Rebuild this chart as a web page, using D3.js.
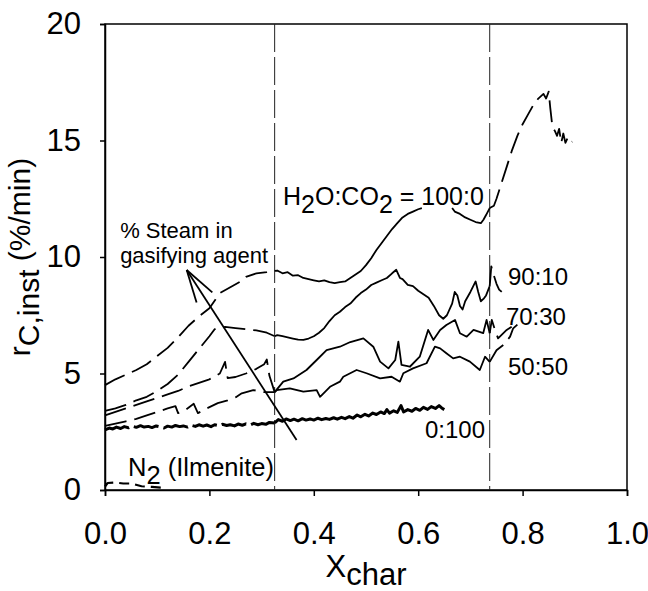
<!DOCTYPE html>
<html>
<head>
<meta charset="utf-8">
<script src="https://cdn.jsdelivr.net/npm/d3@7"></script>
<style>
  html, body { margin: 0; padding: 0; background: #fff; }
  svg { display: block; font-family: "Liberation Sans", Arial, sans-serif; }
</style>
</head>
<body>
<svg id="chart" width="648" height="591"></svg>
<script>
// Axis ticks
const xTicks = [0, 0.2, 0.4, 0.6, 0.8, 1.0];
const yTicks = [0, 5, 10, 15, 20];

// Conversion stage boundaries (X_char)
const stageBounds = [0.325, 0.737];

// Instantaneous gasification rate r_C,inst (%/min) vs X_char
const steam100 = [
  [0,4.5],[0.02,4.75],[0.04,4.95],[0.06,5.15],[0.08,5.4],[0.10,5.75],[0.12,6.1],[0.14,6.55],[0.16,7.05],[0.18,7.45],
  [0.20,7.8],[0.22,8.45],[0.24,8.7],[0.26,8.95],[0.27,9.15],[0.29,9.3],[0.31,9.35],[0.325,9.4],
  [0.33,9.42],[0.34,9.3],[0.35,9.35],[0.36,9.2],[0.37,9.22],[0.38,9.1],[0.39,9.05],[0.40,9.0],[0.41,8.95],[0.42,9.0],
  [0.43,8.92],[0.44,8.88],[0.45,8.92],[0.46,8.95],[0.47,9.1],[0.48,9.25],[0.49,9.4],[0.50,9.65],[0.51,9.95],[0.52,10.3],
  [0.53,10.6],[0.54,10.9],[0.55,11.2],[0.56,11.45],[0.57,11.7],[0.58,11.85],[0.59,11.95],[0.60,12.05],[0.607,12.1],
  [0.636,null],
  [0.665,12.1],[0.67,11.95],[0.68,11.85],[0.69,11.7],[0.70,11.6],[0.71,11.5],[0.72,11.45],[0.725,11.6],[0.73,11.8],[0.737,12.1],
  [0.745,12.2],[0.75,12.5],[0.76,13.2],[0.77,13.9],[0.78,14.6],[0.79,15.2],[0.80,15.7],[0.81,16.1],[0.82,16.5],[0.83,16.8],
  [0.84,17.0],[0.845,16.8],[0.85,17.1],[0.853,16.4],[0.857,15.6],[0.862,15.4],[0.866,15.2],[0.87,15.5],[0.874,14.9],
  [0.878,15.3],[0.882,14.9],[0.886,15.1],[0.89,14.9],[0.895,14.95]
];
const steam90 = [
  [0,3.4],[0.02,3.5],[0.04,3.65],[0.06,3.85],[0.08,4.0],[0.10,4.25],[0.12,4.55],[0.14,4.95],[0.16,5.5],[0.18,6.05],
  [0.20,6.6],[0.21,6.9],[0.23,7.0],[0.25,6.95],[0.27,6.9],[0.29,6.85],[0.31,6.75],[0.325,6.6],
  [0.33,6.65],[0.34,6.6],[0.35,6.55],[0.36,6.5],[0.37,6.45],[0.38,6.44],[0.39,6.5],[0.40,6.6],[0.41,6.75],[0.42,6.95],
  [0.43,7.25],[0.44,7.5],[0.45,7.65],[0.46,7.85],[0.47,8.0],[0.48,8.25],[0.49,8.45],[0.50,8.6],[0.51,8.8],[0.52,8.9],
  [0.53,9.0],[0.54,9.1],[0.55,9.3],[0.558,9.45],[0.565,9.1],[0.57,9.05],[0.58,8.8],[0.59,8.75],[0.60,8.55],[0.61,8.4],
  [0.62,8.25],[0.63,7.9],[0.64,7.5],[0.648,7.35],[0.655,7.5],[0.665,8.0],[0.67,8.5],[0.675,8.35],[0.68,7.9],[0.685,7.75],
  [0.69,8.1],[0.70,8.5],[0.71,8.95],[0.715,8.5],[0.72,8.1],[0.725,8.2],[0.73,8.35],[0.737,8.75],
  [0.74,9.6],[0.745,9.2],[0.75,8.85],[0.755,8.6],[0.76,8.5]
];
const steam70 = [
  [0,3.2],[0.02,3.35],[0.04,3.5],[0.06,3.65],[0.08,3.8],[0.10,3.95],[0.12,4.1],[0.14,4.25],[0.16,4.45],[0.18,4.6],
  [0.20,4.75],[0.22,5.0],[0.23,5.5],[0.235,4.8],[0.25,4.85],[0.27,5.0],[0.29,5.2],[0.305,5.4],[0.31,5.6],[0.315,4.9],[0.325,4.2],
  [0.3415,4.65],[0.361,4.79],[0.386,5.15],[0.4055,5.58],[0.4245,6.0],[0.45,6.15],[0.47,6.35],[0.495,6.51],[0.514,6.15],
  [0.527,5.51],[0.543,5.22],[0.556,5.58],[0.562,6.37],[0.568,5.37],[0.584,5.29],[0.603,5.72],[0.619,6.87],[0.629,6.44],
  [0.642,6.87],[0.654,7.08],[0.6705,7.3],[0.68,6.73],[0.693,6.58],[0.706,6.87],[0.7245,6.73],[0.731,7.3],[0.737,6.73],
  [0.741,7.3],[0.747,6.87],[0.753,6.51],[0.7695,6.87],[0.779,7.01]
];
const steam50 = [
  [0,2.75],[0.02,2.85],[0.04,2.95],[0.06,3.05],[0.08,3.2],[0.10,3.35],[0.12,3.5],[0.135,3.6],[0.14,3.3],[0.155,3.45],
  [0.17,3.7],[0.178,3.3],[0.195,3.5],[0.216,3.73],[0.235,3.85],[0.252,4.0],[0.262,4.15],[0.284,4.29],[0.305,4.2],[0.325,4.2],
  [0.329,4.29],[0.354,4.36],[0.38,4.22],[0.4055,4.29],[0.412,4.0],[0.431,4.43],[0.45,4.65],[0.4565,4.86],[0.482,5.15],
  [0.501,5.01],[0.527,4.79],[0.549,4.86],[0.565,4.65],[0.5715,5.01],[0.59,5.22],[0.616,5.44],[0.632,6.15],[0.642,6.08],
  [0.654,5.87],[0.667,5.65],[0.68,5.72],[0.699,5.51],[0.718,5.15],[0.728,5.72],[0.737,5.5],
  [0.75,6.0],[0.763,6.22],[0.776,6.58],[0.782,6.94],[0.79,7.1]
];
const steam0 = [
  [0,2.58],[0.008,2.66],[0.015,2.62],[0.022,2.7],[0.03,2.64],[0.037,2.72],[0.045,2.67],[0.052,2.74],[0.06,2.69],[0.068,2.76],
  [0.075,2.7],[0.083,2.73],[0.09,2.68],[0.098,2.75],[0.105,2.71],[0.113,2.66],[0.12,2.74],[0.128,2.7],[0.135,2.77],[0.143,2.72],
  [0.15,2.75],[0.158,2.7],[0.165,2.78],[0.173,2.73],[0.18,2.8],[0.188,2.74],[0.195,2.79],[0.203,2.72],[0.21,2.8],[0.218,2.76],
  [0.225,2.82],[0.233,2.77],[0.24,2.8],[0.248,2.75],[0.255,2.83],[0.263,2.78],[0.27,2.84],[0.278,2.79],[0.285,2.86],[0.293,2.8],
  [0.30,2.85],[0.308,2.82],[0.315,2.9],[0.325,2.88],
  [0.332,3.02],[0.34,2.95],[0.347,3.05],[0.355,2.98],[0.362,3.04],[0.37,2.97],[0.378,3.06],[0.385,3.0],[0.393,3.05],[0.40,3.0],
  [0.408,3.08],[0.415,3.02],[0.423,3.07],[0.43,3.03],[0.438,3.1],[0.445,3.04],[0.453,3.12],[0.46,3.06],[0.468,3.15],[0.475,3.08],
  [0.483,3.22],[0.49,3.14],[0.498,3.25],[0.505,3.18],[0.513,3.3],[0.52,3.24],[0.528,3.35],[0.535,3.28],[0.54,3.45],[0.545,3.3],
  [0.553,3.4],[0.56,3.33],[0.567,3.62],[0.572,3.35],[0.58,3.45],[0.588,3.38],[0.595,3.5],[0.603,3.42],[0.61,3.55],[0.618,3.46],
  [0.625,3.58],[0.633,3.5],[0.64,3.62],[0.645,3.52],[0.65,3.45]
];
const nitrogen = [
  [0,0.15],[0.005,0.3],[0.02,0.32],[0.035,0.28],[0.05,0.28],[0.07,0.16],[0.09,0.13],[0.11,0.1]
];

// Text annotations: [X_char, r, label]
const curveLabels = [
  [0.772, 8.8, "90:10"],
  [0.768, 7.08, "70:30"],
  [0.772, 4.94, "50:50"],
  [0.613, 2.23, "0:100"]
];
// Arrow (tail -> head) in data units
const arrowTail = [0.367, 2.15];
const arrowHead = [0.1565, 9.44];

const svg = d3.select("#chart");
const margin = { left: 105, right: 21, top: 24, bottom: 101 };
const W = 648, H = 591;

const x = d3.scaleLinear().domain([0, 1]).range([margin.left, W - margin.right]);
const y = d3.scaleLinear().domain([0, 20]).range([H - margin.bottom, margin.top]);

// Frame
svg.append("rect")
  .attr("x", x(0)).attr("y", y(20))
  .attr("width", x(1) - x(0)).attr("height", y(0) - y(20))
  .attr("fill", "none").attr("stroke", "#000").attr("stroke-width", 1.5);

// Axes
const xAxis = svg.append("g")
  .attr("transform", `translate(0,${y(0)})`)
  .call(d3.axisBottom(x).tickValues(xTicks).tickFormat(d3.format(".1f")).tickSize(6).tickPadding(26));
const yAxis = svg.append("g")
  .attr("transform", `translate(${x(0)},0)`)
  .call(d3.axisLeft(y).tickValues(yTicks).tickFormat(d3.format("d")).tickSize(5).tickPadding(19));
[xAxis, yAxis].forEach(g => {
  g.select(".domain").attr("stroke-width", 1.5);
  g.selectAll(".tick line").attr("stroke-width", 1.5);
  g.selectAll("text").attr("font-size", 31).attr("fill", "#000")
    .attr("font-family", "Liberation Sans, Arial, sans-serif");
});
xAxis.selectAll("text").attr("dy", "0.71em");

// Stage boundaries
svg.append("g").selectAll("line").data(stageBounds).join("line")
  .attr("x1", d => x(d)).attr("x2", d => x(d))
  .attr("y1", y(20)).attr("y2", y(0))
  .attr("stroke", "#222").attr("stroke-width", 1)
  .attr("stroke-dasharray", "28,5");

// Curves: dashed in first and last stage, solid in between
const line = d3.line()
  .defined(d => d[1] !== null)
  .x(d => x(d[0])).y(d => y(d[1]));

function splitStages(data) {
  const [b1, b2] = stageBounds;
  const early = data.filter(d => d[0] <= b1);
  const midRaw = data.filter(d => d[0] > b1 && d[0] <= b2);
  const lateRaw = data.filter(d => d[0] > b2);
  const mid = early.length ? [early[early.length - 1], ...midRaw] : midRaw;
  const late = mid.length ? [mid[mid.length - 1], ...lateRaw] : lateRaw;
  return { early, mid, late: lateRaw.length ? late : [] };
}

const curves = [
  { data: steam100, w: 1.8, dash: "22,8" },
  { data: steam90, w: 1.8, dash: "22,8" },
  { data: steam70, w: 1.8, dash: "22,8" },
  { data: steam50, w: 1.8, dash: "22,8" },
  { data: steam0, w: 3, dash: "26,5" }
];
const gCurves = svg.append("g").attr("fill", "none").attr("stroke", "#000")
  .attr("stroke-linejoin", "round");
curves.forEach(c => {
  const s = splitStages(c.data);
  if (s.early.length > 1) gCurves.append("path").attr("d", line(s.early))
    .attr("stroke-width", c.w).attr("stroke-dasharray", c.dash);
  if (s.mid.length > 1) gCurves.append("path").attr("d", line(s.mid))
    .attr("stroke-width", c.w);
  if (s.late.length > 1) gCurves.append("path").attr("d", line(s.late))
    .attr("stroke-width", c.w).attr("stroke-dasharray", c.dash);
});
gCurves.append("path").attr("d", line(nitrogen))
  .attr("stroke-width", 2.2).attr("stroke-dasharray", "10,6");

// Arrow
const ax0 = x(arrowTail[0]), ay0 = y(arrowTail[1]);
const ax1 = x(arrowHead[0]), ay1 = y(arrowHead[1]);
const ang = Math.atan2(ay0 - ay1, ax0 - ax1);
const barb = 34, spread = 16 * Math.PI / 180;
const gArrow = svg.append("g").attr("stroke", "#000").attr("stroke-width", 1.8).attr("fill", "none");
gArrow.append("line").attr("x1", ax0).attr("y1", ay0).attr("x2", ax1).attr("y2", ay1);
[-1, 1].forEach(s => {
  gArrow.append("line")
    .attr("x1", ax1).attr("y1", ay1)
    .attr("x2", ax1 + barb * Math.cos(ang + s * spread))
    .attr("y2", ay1 + barb * Math.sin(ang + s * spread));
});

// Labels
const gText = svg.append("g").attr("fill", "#000").attr("font-size", 24);
gText.selectAll("text.cl").data(curveLabels).join("text")
  .attr("class", "cl")
  .attr("x", d => x(d[0])).attr("y", d => y(d[1]))
  .text(d => d[2]);

function subText(g, px, py, parts, size) {
  const t = g.append("text").attr("x", px).attr("y", py).attr("font-size", size);
  parts.forEach(p => {
    const ts = t.append("tspan").text(p[0]);
    if (p[1]) ts.attr("dy", p[1]);
  });
  return t;
}
// H2O:CO2 = 100:0
subText(gText, x(0.341), y(12.23), [["H"], ["2", 8], ["O:CO", -8], ["2", 8], [" = 100:0", -8]], 25);
// N2 (Ilmenite)
subText(gText, x(0.044), y(0.6), [["N"], ["2", 8], [" (Ilmenite)", -8]], 25.5);
// Steam annotation
gText.append("text").attr("x", x(0.029)).attr("y", y(10.8)).attr("font-size", 22).text("% Steam in");
gText.append("text").attr("x", x(0.029)).attr("y", y(9.74)).attr("font-size", 22).text("gasifying agent");

// Axis titles
const xt = svg.append("text").attr("text-anchor", "middle")
  .attr("x", (x(0) + x(1)) / 2).attr("y", 577).attr("font-size", 31);
xt.append("tspan").text("X");
xt.append("tspan").attr("dy", 8).text("char");

const yt = svg.append("text").attr("text-anchor", "middle")
  .attr("transform", `translate(30,${(y(0) + y(20)) / 2}) rotate(-90)`)
  .attr("font-size", 30);
yt.append("tspan").text("r");
yt.append("tspan").attr("dy", 9).text("C,inst");
yt.append("tspan").attr("dy", -9).text(" (%/min)");
</script>
</body>
</html>
